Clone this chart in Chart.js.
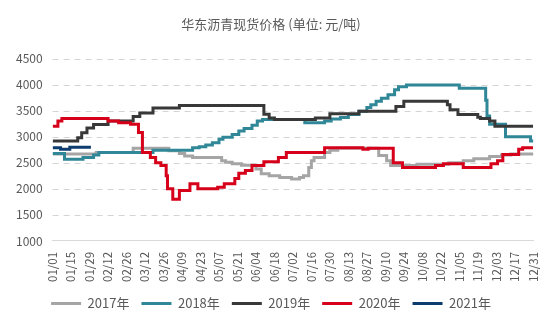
<!DOCTYPE html>
<html>
<head>
<meta charset="utf-8">
<script src="https://cdn.jsdelivr.net/npm/chart.js@4/dist/chart.umd.min.js"></script>
<style>
  body { margin: 0; background: #fff; }
  #wrap { width: 550px; height: 330px; }
</style>
</head>
<body>
<div id="wrap"><canvas id="priceChart" width="550" height="330"></canvas></div>
<script>
// x tick labels, one every 14 days (day 0 .. day 364)
const tickLabels = ['01/01','01/15','01/29','02/12','02/26','03/12','03/26','04/09','04/23','05/07',
  '05/21','06/04','06/18','07/02','07/16','07/30','08/13','08/27','09/10','09/24','10/08','10/22',
  '11/05','11/19','12/03','12/17','12/31'];

const seriesNames = ['2017年', '2018年', '2019年', '2020年', '2021年'];

// price change points: day of year (0 = 01/01) and price from that day on
const days2017 = [0, 33, 61, 88, 96, 100, 106, 128, 131, 136, 143, 154, 158, 164, 172, 181, 187, 190, 194, 196, 198, 206, 210, 216, 247, 253, 256, 276, 300, 311, 319, 331, 340, 347, 364];
const vals2017 = [2670, 2700, 2780, 2730, 2680, 2630, 2600, 2540, 2510, 2480, 2455, 2380, 2290, 2250, 2220, 2190, 2220, 2250, 2410, 2540, 2600, 2700, 2740, 2780, 2640, 2540, 2450, 2470, 2500, 2540, 2580, 2620, 2650, 2670, 2680];

const days2018 = [0, 9, 23, 31, 35, 76, 106, 111, 116, 121, 126, 129, 136, 141, 145, 151, 155, 159, 191, 206, 211, 218, 224, 232, 238, 241, 245, 249, 254, 259, 262, 268, 308, 327, 328, 329, 331, 343, 362, 364];
const vals2018 = [2680, 2570, 2600, 2650, 2700, 2740, 2790, 2810, 2840, 2885, 2950, 2990, 3045, 3110, 3160, 3220, 3300, 3330, 3270, 3300, 3340, 3370, 3425, 3490, 3560, 3615, 3680, 3740, 3805, 3900, 3960, 3995, 3930, 3930, 3700, 3400, 3240, 3000, 2920, 2900];

const days2019 = [0, 19, 22, 26, 31, 42, 61, 66, 76, 96, 160, 164, 168, 199, 210, 232, 260, 266, 299, 301, 307, 322, 324, 331, 335, 364];
const vals2019 = [2920, 2980, 3075, 3170, 3235, 3300, 3390, 3455, 3550, 3600, 3430, 3360, 3330, 3360, 3440, 3490, 3580, 3680, 3615, 3520, 3425, 3375, 3350, 3300, 3200, 3200];

const days2020 = [0, 4, 7, 42, 50, 59, 65, 68, 74, 78, 82, 86, 87, 91, 96, 104, 110, 125, 130, 138, 141, 146, 151, 160, 171, 177, 206, 235, 239, 258, 265, 290, 296, 311, 332, 337, 341, 353, 356, 364];
const vals2020 = [3200, 3300, 3350, 3300, 3270, 3240, 3080, 2700, 2600, 2500, 2450, 2250, 2000, 1800, 1970, 2100, 2000, 2030, 2100, 2200, 2300, 2350, 2450, 2520, 2600, 2700, 2790, 2760, 2780, 2500, 2410, 2450, 2480, 2410, 2480, 2540, 2660, 2760, 2790, 2790];

const days2021 = [0, 6, 13, 29];
const vals2021 = [2790, 2760, 2800, 2800];

const colors = ['#a5a5a5', '#2f8797', '#383838', '#d7001a', '#0d3c6e'];

const toPoints = (d, v) => d.map((day, i) => ({ x: day, y: v[i] }));
const allDays = [days2017, days2018, days2019, days2020, days2021];
const allVals = [vals2017, vals2018, vals2019, vals2020, vals2021];

// dashed horizontal grid at each y tick (skips the bottom one, the x axis line is there)
const dashedGrid = {
    id: 'dashedGrid',
    beforeDatasetsDraw(chart) {
        const { ctx, chartArea, scales } = chart;
        const y = scales.y;
        ctx.save();
        ctx.strokeStyle = '#d4d4d4';
        ctx.lineWidth = 1;
        ctx.setLineDash([6, 5]);
        y.ticks.forEach((t) => {
            if (t.value === y.min) return;
            const py = Math.round(y.getPixelForValue(t.value)) + 0.5;
            ctx.beginPath();
            ctx.moveTo(chartArea.left, py);
            ctx.lineTo(chartArea.right, py);
            ctx.stroke();
        });
        ctx.restore();
    }
};

Chart.defaults.font.family = "'Noto Sans CJK SC', 'Noto Sans', sans-serif";
Chart.defaults.color = '#595959';

const ctx = document.getElementById('priceChart');
new Chart(ctx, {
    type: 'line',
    data: {
        datasets: seriesNames.map((name, i) => ({
            label: name,
            data: toPoints(allDays[i], allVals[i]),
            borderColor: colors[i],
            backgroundColor: colors[i],
            borderWidth: 3,
            pointRadius: 0,
            stepped: true,
            // later years drawn on top
            order: 5 - i
        }))
    },
    options: {
        responsive: false,
        animation: false,
        layout: { padding: { left: 6, right: 14, top: 4, bottom: 10 } },
        plugins: {
            title: {
                display: true,
                text: '华东沥青现货价格 (单位: 元/吨)',
                font: { size: 13, weight: 'normal' },
                color: '#595959',
                padding: { top: 12, bottom: 27 }
            },
            legend: {
                position: 'bottom',
                labels: {
                    boxWidth: 30,
                    boxHeight: 0,
                    padding: 12,
                    font: { size: 13 },
                    color: '#595959',
                    sort: (a, b) => a.datasetIndex - b.datasetIndex
                }
            },
            tooltip: { enabled: false }
        },
        scales: {
            x: {
                type: 'linear',
                min: 0,
                max: 364,
                grid: { display: false },
                border: { display: true, color: '#d9d9d9', width: 1 },
                ticks: {
                    stepSize: 14,
                    autoSkip: false,
                    minRotation: 90,
                    maxRotation: 90,
                    font: { size: 11.5 },
                    color: '#595959',
                    callback: (value) => tickLabels[Math.round(value / 14)]
                }
            },
            y: {
                min: 1000,
                max: 4500,
                grid: { display: false, drawTicks: false },
                border: { display: false },
                ticks: {
                    stepSize: 500,
                    padding: 10,
                    font: { size: 12 },
                    color: '#595959',
                    callback: (value) => String(value)
                }
            }
        }
    },
    plugins: [dashedGrid]
});
</script>
</body>
</html>
